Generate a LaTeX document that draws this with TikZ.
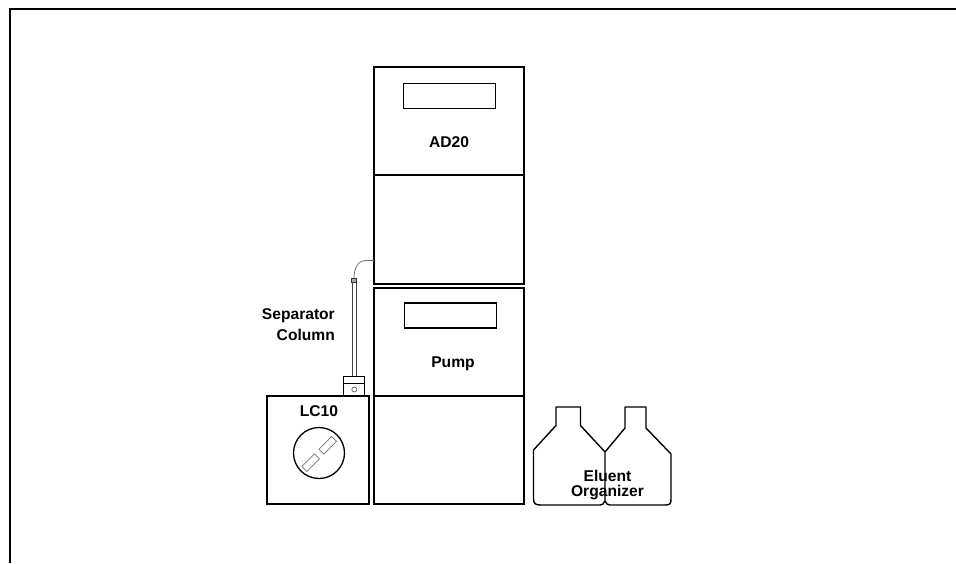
\documentclass[tikz,border=0pt]{standalone}
\usepackage{fontspec}
\setmainfont{Liberation Sans}
\begin{document}
\begin{tikzpicture}[x=1pt,y=-1pt,
  unit/.style={draw=black,line width=1.9pt,rectangle,minimum width=150pt,minimum height=108pt,inner sep=0pt,outer sep=0pt,anchor=north west},
  display/.style={draw=black,line width=1.4pt,rectangle,minimum width=92pt,minimum height=25pt,inner sep=0pt,outer sep=0pt},
  lab/.style={font=\fontsize{15.6}{15.5}\selectfont\bfseries,inner sep=0pt,align=center},
  labr/.style={font=\fontsize{15.6}{21}\selectfont\bfseries,inner sep=0pt,align=right},
  slot/.style={draw=black!55,line width=.7pt,rectangle,minimum width=18pt,minimum height=7pt,inner sep=0pt,rotate=45,fill=white},
  bottle/.style={draw=black,line width=1.4pt,line join=round}]
\useasboundingbox (0,0) rectangle (956,563);
\draw[line width=2pt] (10,563) -- (10,9) -- (956,9);
\node[unit] (ad) at (374,67) {};
\node[unit,minimum height=109pt] (adlow) at (374,175) {};
\node[unit] (pump) at (374,288) {};
\node[unit] (pumplow) at (374,396) {};
\node[display] (addisp) at (449.5,96) {};
\node[display] (pumpdisp) at (450.5,315.5) {};
\node[lab] (adlab) at (449,142) {AD20};
\node[lab] (pumplab) at (453,364) {Pump};
% LC10
\node[draw=black,line width=1.9pt,rectangle,minimum width=102pt,minimum height=108pt,inner sep=0pt,outer sep=0pt,anchor=north west] (lc) at (267,396) {};
\node[lab] (lclab) at (319,411.5) {LC10};
\node[draw=black,line width=1.3pt,circle,minimum size=51pt,inner sep=0pt,outer sep=0pt] (dial) at (319,453) {};
\node[slot] (s1) at (327.7,445.3) {};
\node[slot] (s2) at (310.7,462.7) {};
% injector
\node[draw=black,line width=1.3pt,rectangle,minimum width=21pt,minimum height=19pt,inner sep=0pt,outer sep=0pt,anchor=south west] (inj) at (343.5,395.5) {};
\draw[line width=.8pt] (inj.west |- 0,383.5) -- (inj.east |- 0,383.5);
\node[draw=black!70,line width=.6pt,circle,minimum size=5pt,inner sep=0pt,outer sep=0pt] (port) at (354.3,389.5) {};
% column
\node[draw=black!80,fill=black!35,line width=.6pt,rectangle,minimum width=4.5pt,minimum height=4pt,inner sep=0pt,outer sep=0pt] (fit) at (354,280) {};
\draw[black!75,line width=.7pt] (352.2,282) -- (352.2,376);
\draw[black!75,line width=.7pt] (356,282) -- (356,376);
\coordinate (tube) at (adlow.west |- 0,260.5);
\draw[black!60,line width=.7pt] (tube) -- (366,260.5) .. controls (358,260.5) and (354,268) .. (fit.north);
\node[labr,anchor=north east] (sep) at (335,308) {Separator\\Column};
% bottles
\coordinate (bj) at (605,452);
\draw[bottle] (605,501) .. controls (604,504) and (602,505) .. (600,505) -- (541,505)
  .. controls (536,505) and (533.5,504) .. (533.5,499) -- (533.5,450) -- (556,425.5) -- (556,407) -- (580.5,407) -- (580.5,425.5) -- (bj) -- (605,501);
\draw[bottle] (605,501) .. controls (606,504) and (608,505) .. (610,505) -- (665,505)
  .. controls (670,505) and (671,504) .. (671,499) -- (671,454) -- (646,428) -- (646,407) -- (625,407) -- (625,428) -- (bj);
\node[lab] (el) at (607.5,485) {Eluent\\Organizer};
\end{tikzpicture}
\end{document}
